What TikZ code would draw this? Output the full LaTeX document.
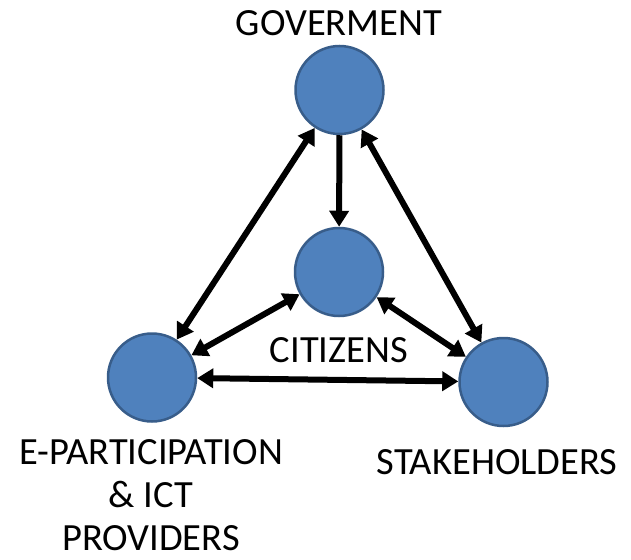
\documentclass[tikz,border=0pt]{standalone}
\usepackage{fontspec}
\setmainfont{Carlito}
\usetikzlibrary{arrows.meta}
\definecolor{nodeblue}{HTML}{4F81BD}
\definecolor{nodeedge}{HTML}{385D8A}

\begin{document}
\begin{tikzpicture}[x=1pt, y=-1pt,
    roundnode/.style={circle, fill=nodeblue, draw=nodeedge, line width=2.5pt, inner sep=0pt, minimum size=88pt},
    tag/.style={font=\fontsize{38.5}{43}\selectfont, align=center, inner sep=0pt},
    link/.style={line width=6pt, -{Triangle[length=16pt,width=19pt]}},
    both/.style={link, {Triangle[length=16pt,width=19pt]}-{Triangle[length=16pt,width=19pt]}}]
    \useasboundingbox (0,0) rectangle (631,559);
    \node[roundnode] (gov) at (339.5,90) {};
    \node[roundnode] (cit) at (339,272) {};
    \node[roundnode] (ict) at (152,377.5) {};
    \node[roundnode] (stake) at (503.5,382) {};
    \node[tag] (govlbl) at (339,23) {GOVERMENT};
    \node[tag] (citlbl) at (339,350) {CITIZENS};
    \node[tag] (ictlbl) at (151,495) {E-PARTICIPATION\\\& ICT\\PROVIDERS};
    \node[tag] (stakelbl) at (497,462) {STAKEHOLDERS};
        \draw[link] (gov) -- (cit);
        \draw[both] (gov) -- (ict);
        \draw[both] (gov) -- (stake);
        \draw[both] (cit) -- (ict);
        \draw[both] (cit) -- (stake);
        \draw[both] (ict) -- (stake);
\end{tikzpicture}
\end{document}
